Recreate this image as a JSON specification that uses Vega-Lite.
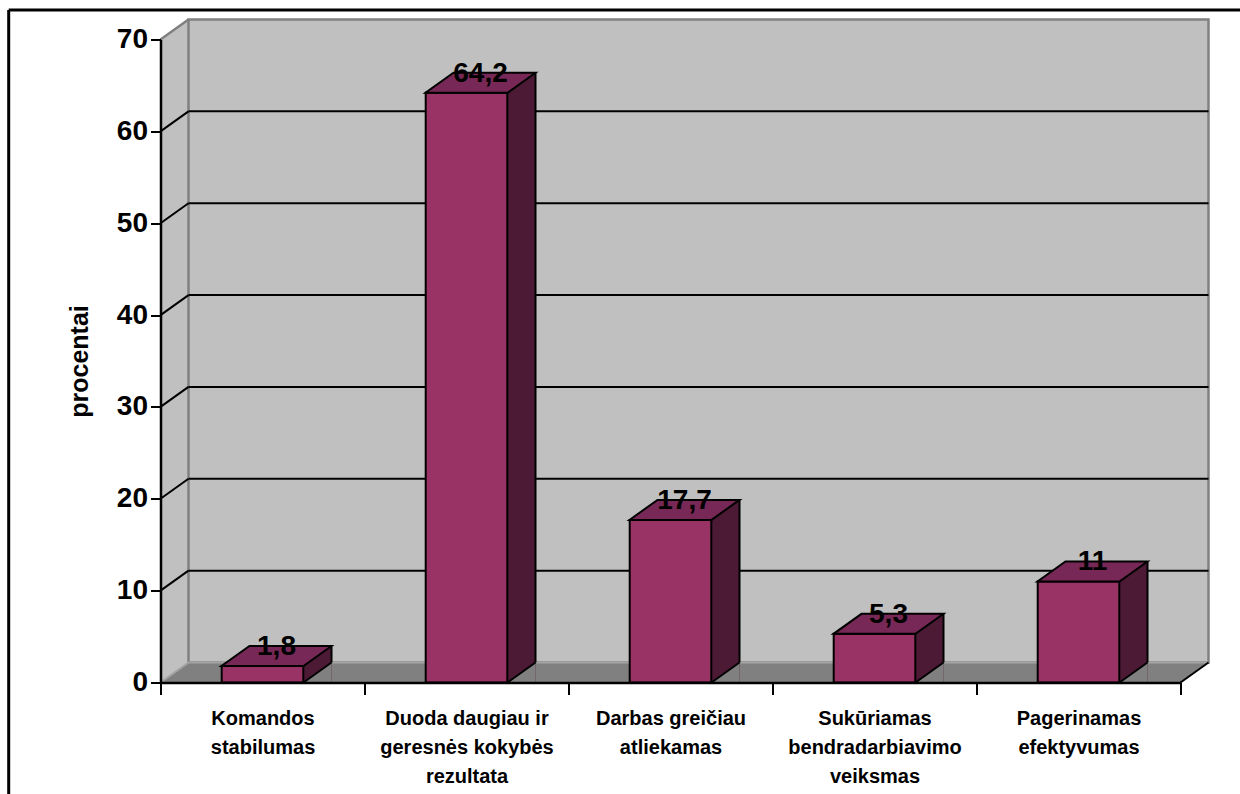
{
  "$schema": "https://vega.github.io/schema/vega-lite/v6.json",
  "width": 1020,
  "height": 643,
  "autosize": {"type": "none"},
  "padding": {"left": 160.5, "top": 39.5, "right": 59.5, "bottom": 111.5},
  "background": "white",
  "config": {
    "view": {"stroke": null},
    "font": "Liberation Sans",
    "locale": {"number": {"decimal": ",", "thousands": "\u00a0", "grouping": [3], "currency": ["", " €"]}}
  },
  "datasets": {
    "answers": [
      {"atsakymas": "Komandos\nstabilumas", "procentai": 1.8},
      {"atsakymas": "Duoda daugiau ir\ngeresnės kokybės\nrezultata", "procentai": 64.2},
      {"atsakymas": "Darbas greičiau\natliekamas", "procentai": 17.7},
      {"atsakymas": "Sukūriamas\nbendradarbiavimo\nveiksmas", "procentai": 5.3},
      {"atsakymas": "Pagerinamas\nefektyvumas", "procentai": 11}
    ],
    "gridlines": [{"v": 10}, {"v": 20}, {"v": 30}, {"v": 40}, {"v": 50}, {"v": 60}],
    "single": [{}]
  },
  "layer": [
    {
      "description": "outer frame, left edge",
      "data": {"name": "single"},
      "mark": {"type": "rule", "stroke": "black", "strokeWidth": 3},
      "encoding": {"x": {"value": -151.8}, "y": {"value": -29.5}, "y2": {"value": 760}}
    },
    {
      "description": "outer frame, top edge",
      "data": {"name": "single"},
      "mark": {"type": "rule", "stroke": "black", "strokeWidth": 3},
      "encoding": {"x": {"value": -151.8}, "x2": {"value": 1085}, "y": {"value": -29.5}}
    },
    {
      "description": "left side wall of the 3-D box",
      "data": {"name": "single"},
      "mark": {"type": "point", "shape": "M0,0 L0,-643 L28,-663 L28,-20 Z", "size": 4, "filled": true, "fill": "#c0c0c0", "stroke": null, "opacity": 1},
      "encoding": {
        "x": {"value": 0},
        "y": {"datum": 0, "type": "quantitative", "scale": {"domain": [0, 70], "nice": false, "zero": true}}
      }
    },
    {
      "description": "back wall",
      "data": {"name": "single"},
      "mark": {"type": "rect", "fill": "#c0c0c0", "stroke": "#808080", "strokeWidth": 2.5, "xOffset": 28, "x2Offset": 28, "yOffset": -20, "y2Offset": -20},
      "encoding": {
        "x": {"value": 0},
        "x2": {"value": "width"},
        "y": {"datum": 70, "type": "quantitative"},
        "y2": {"datum": 0}
      }
    },
    {
      "description": "top edge of the side wall",
      "data": {"name": "single"},
      "mark": {"type": "point", "shape": "M0,0 L28,-20", "size": 4, "filled": false, "stroke": "#808080", "strokeWidth": 2.5, "opacity": 1},
      "encoding": {"x": {"value": 0}, "y": {"datum": 70, "type": "quantitative"}}
    },
    {
      "description": "floor",
      "data": {"name": "single"},
      "mark": {"type": "point", "shape": "M0,0 L1020,0 L1048,-20 L28,-20 Z", "size": 4, "filled": true, "fill": "#808080", "stroke": null, "opacity": 1},
      "encoding": {"x": {"value": 0}, "y": {"datum": 0, "type": "quantitative"}}
    },
    {
      "description": "left and back edges of the floor",
      "data": {"name": "single"},
      "mark": {"type": "point", "shape": "M0,0 L28,-20 L1048,-20", "size": 4, "filled": false, "stroke": "#a4a4a4", "strokeWidth": 2, "opacity": 1},
      "encoding": {"x": {"value": 0}, "y": {"datum": 0, "type": "quantitative"}}
    },
    {
      "description": "right edge of the floor",
      "data": {"name": "single"},
      "mark": {"type": "point", "shape": "M1020,0 L1048,-20", "size": 4, "filled": false, "stroke": "black", "strokeWidth": 2, "opacity": 1},
      "encoding": {"x": {"value": 0}, "y": {"datum": 0, "type": "quantitative"}}
    },
    {
      "description": "gridlines on the back wall",
      "data": {"name": "gridlines"},
      "mark": {"type": "rule", "stroke": "black", "strokeWidth": 2, "xOffset": 28, "x2Offset": 28, "yOffset": -20},
      "encoding": {
        "x": {"value": 0},
        "x2": {"value": "width"},
        "y": {"field": "v", "type": "quantitative"}
      }
    },
    {
      "description": "gridlines running across the side wall",
      "data": {"name": "gridlines"},
      "mark": {"type": "point", "shape": "M0,0 L28,-20", "size": 4, "filled": false, "stroke": "black", "strokeWidth": 2, "opacity": 1},
      "encoding": {"x": {"value": 0}, "y": {"field": "v", "type": "quantitative"}}
    },
    {
      "description": "right-hand faces of the bars, drawn as wide rules",
      "data": {"name": "answers"},
      "mark": {"type": "rule", "stroke": "#4c1a35", "strokeWidth": 28, "strokeCap": "butt", "xOffset": 55, "yOffset": -20},
      "encoding": {
        "x": {"field": "atsakymas", "type": "nominal", "sort": null, "scale": {"paddingInner": 0, "paddingOuter": 0}},
        "y": {"field": "procentai", "type": "quantitative"},
        "y2": {"datum": 0}
      }
    },
    {
      "description": "floor visible beside each bar foot, with its slanted edge",
      "data": {"name": "answers"},
      "mark": {"type": "point", "shape": "M41,0 L69,0 L69,-20 Z", "size": 4, "filled": true, "fill": "#808080", "stroke": null, "opacity": 1},
      "encoding": {
        "x": {"field": "atsakymas", "type": "nominal", "sort": null},
        "y": {"datum": 0, "type": "quantitative"}
      }
    },
    {
      "data": {"name": "answers"},
      "mark": {"type": "point", "shape": "M41,0 L69,-20", "size": 4, "filled": false, "stroke": "black", "strokeWidth": 2, "opacity": 1},
      "encoding": {
        "x": {"field": "atsakymas", "type": "nominal", "sort": null},
        "y": {"datum": 0, "type": "quantitative"}
      }
    },
    {
      "description": "front faces of the bars, carrying both axes",
      "data": {"name": "answers"},
      "mark": {"type": "bar", "width": {"band": 0.4}, "fill": "#993366", "stroke": "black", "strokeWidth": 2},
      "encoding": {
        "x": {
          "field": "atsakymas", "type": "nominal", "sort": null,
          "axis": {
            "title": null, "zindex": 1, "labelAngle": 0, "labelAlign": "center", "tickBand": "extent",
            "tickSize": 12, "tickWidth": 2, "tickColor": "black",
            "domainColor": "black", "domainWidth": 2.5,
            "labelExpr": "split(datum.label, '\\n')",
            "labelFont": "Liberation Sans", "labelFontSize": 20, "labelFontWeight": "bold",
            "labelColor": "black", "labelLineHeight": 29, "labelPadding": 24, "labelLimit": 0
          }
        },
        "y": {
          "field": "procentai", "type": "quantitative",
          "axis": {
            "title": "procentai", "zindex": 1, "grid": false,
            "values": [0, 10, 20, 30, 40, 50, 60, 70], "format": "d",
            "tickSize": 10, "tickWidth": 2, "tickColor": "black",
            "domainColor": "black", "domainWidth": 2.5,
            "labelFont": "Liberation Sans", "labelFontSize": 28, "labelFontWeight": "bold",
            "labelColor": "black", "labelPadding": 3,
            "titleFont": "Liberation Sans", "titleFontSize": 25, "titleFontWeight": "bold",
            "titleColor": "black", "titlePadding": 24
          }
        },
        "y2": {"datum": 0}
      }
    },
    {
      "description": "top faces of the bars",
      "data": {"name": "answers"},
      "mark": {"type": "point", "shape": "M-41,0 L41,0 L69,-20 L-13,-20 Z", "size": 4, "filled": true, "fill": "#772856", "stroke": "black", "strokeWidth": 2, "opacity": 1},
      "encoding": {
        "x": {"field": "atsakymas", "type": "nominal", "sort": null},
        "y": {"field": "procentai", "type": "quantitative"}
      }
    },
    {
      "description": "back vertical edge of each bar",
      "data": {"name": "answers"},
      "mark": {"type": "rule", "stroke": "black", "strokeWidth": 2, "xOffset": 69, "yOffset": -20, "y2Offset": -20},
      "encoding": {
        "x": {"field": "atsakymas", "type": "nominal", "sort": null},
        "y": {"field": "procentai", "type": "quantitative"},
        "y2": {"datum": 0}
      }
    },
    {
      "description": "value labels",
      "data": {"name": "answers"},
      "mark": {"type": "text", "font": "Liberation Sans", "fontSize": 28, "fontWeight": "bold", "color": "black", "align": "center", "baseline": "alphabetic", "dx": 14, "dy": -11},
      "encoding": {
        "x": {"field": "atsakymas", "type": "nominal", "sort": null},
        "y": {"field": "procentai", "type": "quantitative"},
        "text": {"field": "procentai", "type": "quantitative", "format": ".3~r"}
      }
    }
  ]
}
